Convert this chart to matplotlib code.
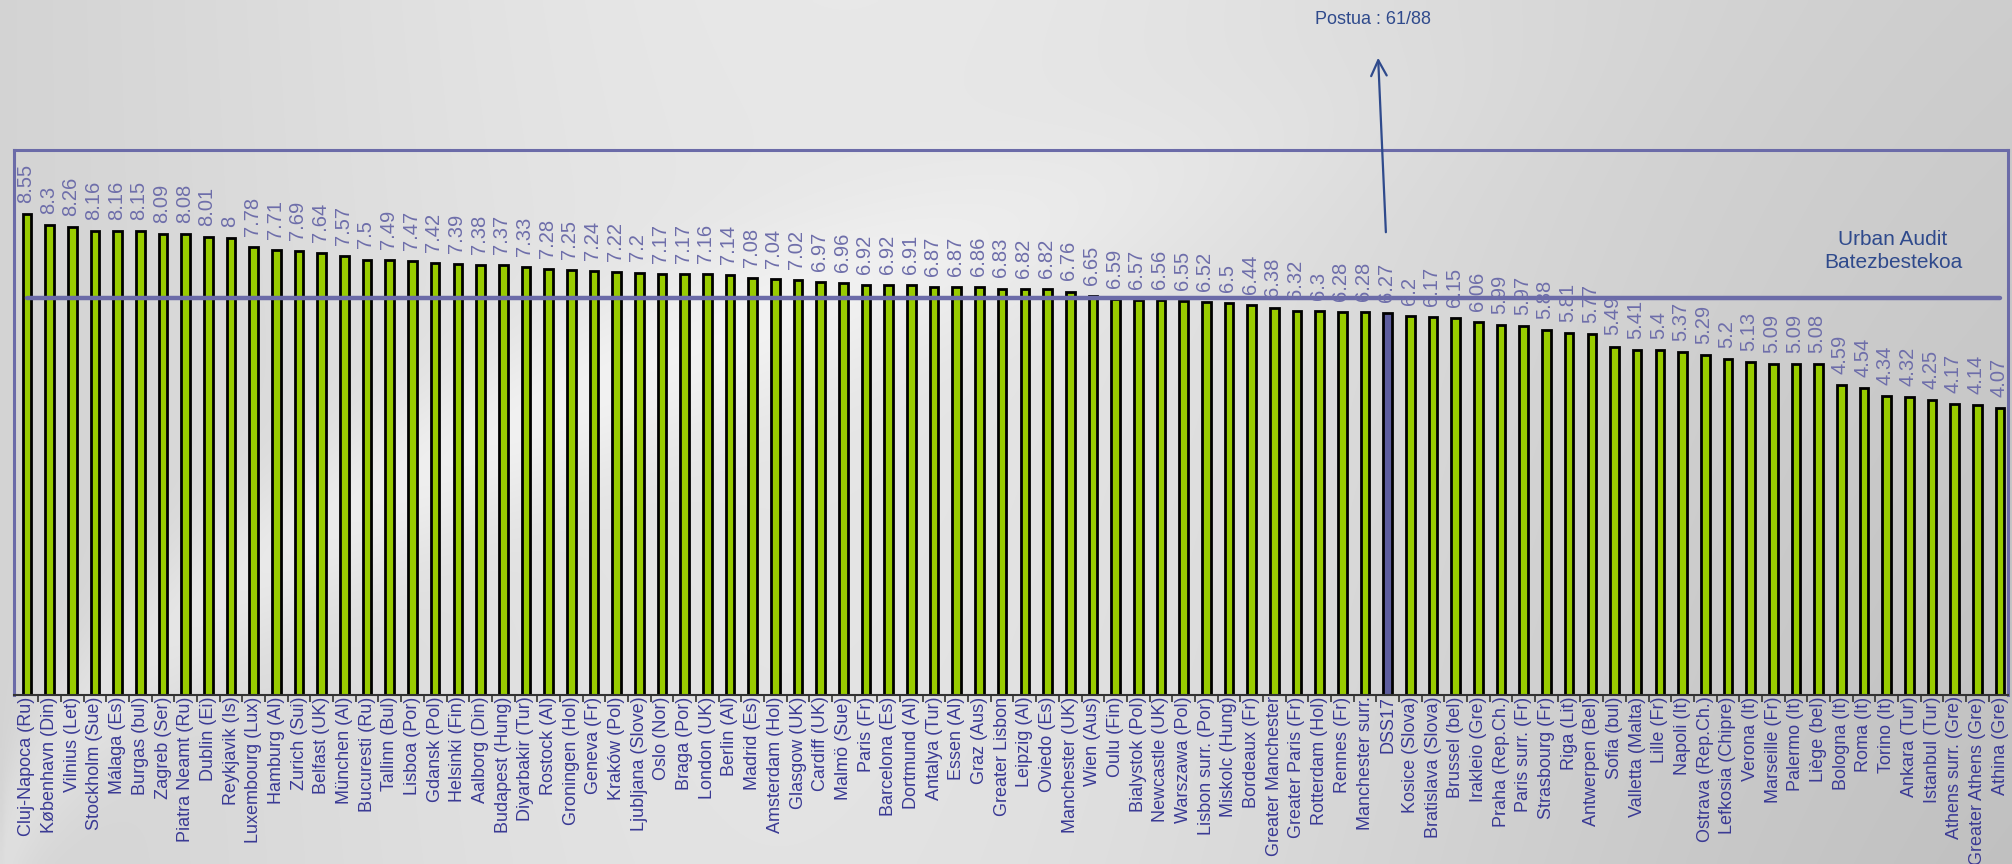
import numpy as np
import matplotlib
matplotlib.use("Agg")
import matplotlib.pyplot as plt
from matplotlib.patches import FancyArrowPatch

# hiriak (ordenatuta) eta balioak
CITIES = [
    "Cluj-Napoca (Ru)", "København (Din)", "Vilnius (Let)", "Stockholm (Sue)",
    "Málaga (Es)", "Burgas (bul)", "Zagreb (Ser)", "Piatra Neamt (Ru)",
    "Dublin (Ei)", "Reykjavik (Is)", "Luxembourg (Lux)", "Hamburg (Al)",
    "Zurich (Sui)", "Belfast (UK)", "München (Al)", "Bucuresti (Ru)",
    "Tallinn (Bul)", "Lisboa (Por)", "Gdansk (Pol)", "Helsinki (Fin)",
    "Aalborg (Din)", "Budapest (Hung)", "Diyarbakir (Tur)", "Rostock (Al)",
    "Groningen (Hol)", "Geneva (Fr)", "Kraków (Pol)", "Ljubljana (Slove)",
    "Oslo (Nor)", "Braga (Por)", "London (UK)", "Berlin (Al)",
    "Madrid (Es)", "Amsterdam (Hol)", "Glasgow (UK)", "Cardiff (UK)",
    "Malmö (Sue)", "Paris (Fr)", "Barcelona (Es)", "Dortmund (Al)",
    "Antalya (Tur)", "Essen (Al)", "Graz (Aus)", "Greater Lisbon",
    "Leipzig (Al)", "Oviedo (Es)", "Manchester (UK)", "Wien (Aus)",
    "Oulu (Fin)", "Bialystok (Pol)", "Newcastle (UK)", "Warszawa (Pol)",
    "Lisbon surr. (Por)", "Miskolc (Hung)", "Bordeaux (Fr)", "Greater Manchester",
    "Greater Paris (Fr)", "Rotterdam (Hol)", "Rennes (Fr)", "Manchester surr.",
    "DSS17", "Kosice (Slova)", "Bratislava (Slova)", "Brussel (bel)",
    "Irakleio (Gre)", "Praha (Rep.Ch.)", "Paris surr. (Fr)", "Strasbourg (Fr)",
    "Riga (Lit)", "Antwerpen (Bel)", "Sofia (bul)", "Valletta (Malta)",
    "Lille (Fr)", "Napoli (It)", "Ostrava (Rep.Ch.)", "Lefkosia (Chipre)",
    "Verona (It)", "Marseille (Fr)", "Palermo (It)", "Liège (bel)",
    "Bologna (It)", "Roma (It)", "Torino (It)", "Ankara (Tur)",
    "Istanbul (Tur)", "Athens surr. (Gre)", "Greater Athens (Gre)", "Athina (Gre)",
]
VALUES = [
    8.55, 8.3, 8.26, 8.16, 8.16, 8.15, 8.09, 8.08, 8.01, 8.0,
    7.78, 7.71, 7.69, 7.64, 7.57, 7.5, 7.49, 7.47, 7.42, 7.39,
    7.38, 7.37, 7.33, 7.28, 7.25, 7.24, 7.22, 7.2, 7.17, 7.17,
    7.16, 7.14, 7.08, 7.04, 7.02, 6.97, 6.96, 6.92, 6.92, 6.91,
    6.87, 6.87, 6.86, 6.83, 6.82, 6.82, 6.76, 6.65, 6.59, 6.57,
    6.56, 6.55, 6.52, 6.5, 6.44, 6.38, 6.32, 6.3, 6.28, 6.28,
    6.27, 6.2, 6.17, 6.15, 6.06, 5.99, 5.97, 5.88, 5.81, 5.77,
    5.49, 5.41, 5.4, 5.37, 5.29, 5.2, 5.13, 5.09, 5.09, 5.08,
    4.59, 4.54, 4.34, 4.32, 4.25, 4.17, 4.14, 4.07,
]
HIGHLIGHT = "DSS17"
AVERAGE = 6.6  # Urban Audit batezbestekoa

GREEN = "#99cc00"
BLUE_BAR = "#5d5d9e"
FRAME = "#6b6ba8"
LABEL_C = "#3a3a94"
NOTE_C = "#2f4a8c"
YMIN, YMAX = -2.56, 10.03

plt.rcParams["font.family"] = ["Liberation Sans", "DejaVu Sans"]

fig = plt.figure(figsize=(20.12, 8.64), dpi=100)

# atzeko planoa: gris gradientea + zerrenda argi leuna
bg = fig.add_axes([0, 0, 1, 1], zorder=-5)
gx = np.linspace(0, 1, 500)
gy = np.linspace(0, 1, 250)  # 0 = goian
X, Y = np.meshgrid(gx, gy)
base = 0.79 + 0.12 * np.exp(-((X - 0.42) / 0.40) ** 2) - 0.05 * X * Y
curve = 1.05 - 1.1 * np.sqrt(np.clip(X, 0, None))
swoosh = 0.06 * np.exp(-((Y - curve) / 0.10) ** 2) * np.exp(-((X - 0.2) / 0.35) ** 2)
img = np.clip(base + swoosh, 0, 1)
bg.imshow(np.dstack([img, img, img]), extent=[0, 1, 0, 1], aspect="auto",
          origin="upper", interpolation="bilinear")
bg.axis("off")

ax = fig.add_axes([14 / 2012, 1 - 695 / 864, (2008 - 14) / 2012, (695 - 150) / 864])
ax.patch.set_alpha(0)

x = np.arange(len(VALUES))
vals = np.array(VALUES)
colors = [BLUE_BAR if c == HIGHLIGHT else GREEN for c in CITIES]
ax.bar(x, vals - YMIN, bottom=YMIN, width=0.38, color=colors,
       edgecolor="black", linewidth=2.0, zorder=2)

ax.plot(x, [AVERAGE] * len(x), color=FRAME, lw=3.2, zorder=3,
        solid_capstyle="round")

for xi, v in zip(x, vals):
    ax.annotate(f"{v:g}", (xi, v), xytext=(-1, 8), textcoords="offset points",
                rotation=90, ha="center", va="bottom", fontsize=14.5,
                color="#6e6eaa", zorder=4)

ax.set_xlim(-0.57, len(x) - 1 + 0.35)
ax.set_ylim(YMIN, YMAX)
ax.set_yticks([])
ax.set_xticks(x)
ax.set_xticklabels(CITIES, rotation=90, fontsize=13.0, color=LABEL_C)
ax.set_xticks(x[:-1] + 0.5, minor=True)
ax.tick_params(axis="x", which="major", length=0, pad=1)
ax.tick_params(axis="x", which="minor", length=5, width=1.2, color="#333333")
for side in ("left", "top", "right"):
    ax.spines[side].set_color(FRAME)
    ax.spines[side].set_linewidth(2.2)
ax.spines["bottom"].set_color("#333333")
ax.spines["bottom"].set_linewidth(1.5)

fig.text(1373 / 2012, 1 - 19 / 864, "Postua : 61/88", ha="center", va="center",
         fontsize=13, color=NOTE_C)
fig.add_artist(FancyArrowPatch(
    (1386 / 2012, 1 - 235 / 864), (1378 / 2012, 1 - 55 / 864),
    transform=fig.transFigure, arrowstyle="->", mutation_scale=28,
    color=NOTE_C, lw=1.6))
fig.text(1893 / 2012, 1 - 251 / 864, "Urban Audit\nBatezbestekoa", ha="center",
         va="center", fontsize=15, color=NOTE_C, linespacing=1.3)

fig.savefig("out.png", dpi=100)
